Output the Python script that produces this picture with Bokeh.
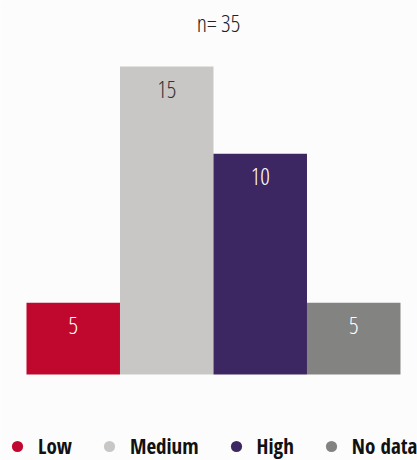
from bokeh.plotting import figure
from bokeh.models import ColumnDataSource, Range1d, Legend, LegendItem, Label
from bokeh.core.properties import value
from bokeh.embed import file_html
from bokeh.resources import INLINE

categories = ["Low", "Medium", "High", "No data"]
counts = [5, 15, 10, 5]
colors = ["#c0082f", "#c8c7c5", "#3c2762", "#838381"]
label_colors = ["#ffffff", "#333333", "#ffffff", "#ffffff"]
subtitle = "n= 35"

LIGHT = "Open Sans Condensed Light"
BOLD = "Open Sans Condensed"

xpos = list(range(len(categories)))
src = ColumnDataSource(dict(x=xpos, cat=categories, n=counts, color=colors,
                            lcolor=label_colors, label=[str(c) for c in counts]))

BASE = 3.58
p = figure(width=417, height=460, y_axis_type="log",
           x_range=Range1d(-0.778, 3.682), y_range=Range1d(2.40, 20.4),
           output_backend="svg", toolbar_location=None, min_border=0,
           background_fill_color="#fcfcfc", border_fill_color="#fcfcfc")

p.add_layout(Label(x=218, y=438, x_units="screen", y_units="screen",
                   text=subtitle, text_align="center", text_baseline="middle",
                   text_font=LIGHT, text_font_size="24px",
                   text_color="#222222"))

p.vbar(x="x", top="n", bottom=BASE, width=1.0, fill_color="color",
       line_color=None, source=src)
p.text(x="x", y="n", text="label", source=src, text_align="center",
       text_baseline="top", y_offset=14, text_color="lcolor",
       text_font=value(LIGHT), text_font_size="24px")

items = []
for i, col in enumerate(colors):
    r = p.scatter(x=[xpos[i]], y=[counts[i]], size=0, fill_color=col,
                  line_color=None)
    items.append(LegendItem(label=categories[i], renderers=[r]))

legend = Legend(items=items, orientation="horizontal", location=(3, 0),
                padding=0, margin=0, spacing=23, label_standoff=7,
                glyph_width=28, glyph_height=28, border_line_color=None,
                background_fill_alpha=0, label_text_font=BOLD,
                label_text_font_size="21px", label_text_font_style="normal",
                label_text_color="#111111")
p.add_layout(legend, "center")

p.xaxis.visible = False
p.yaxis.visible = False
p.xgrid.grid_line_color = None
p.ygrid.grid_line_color = None
p.outline_line_color = None

open("out.html", "w").write(file_html(p, INLINE))
